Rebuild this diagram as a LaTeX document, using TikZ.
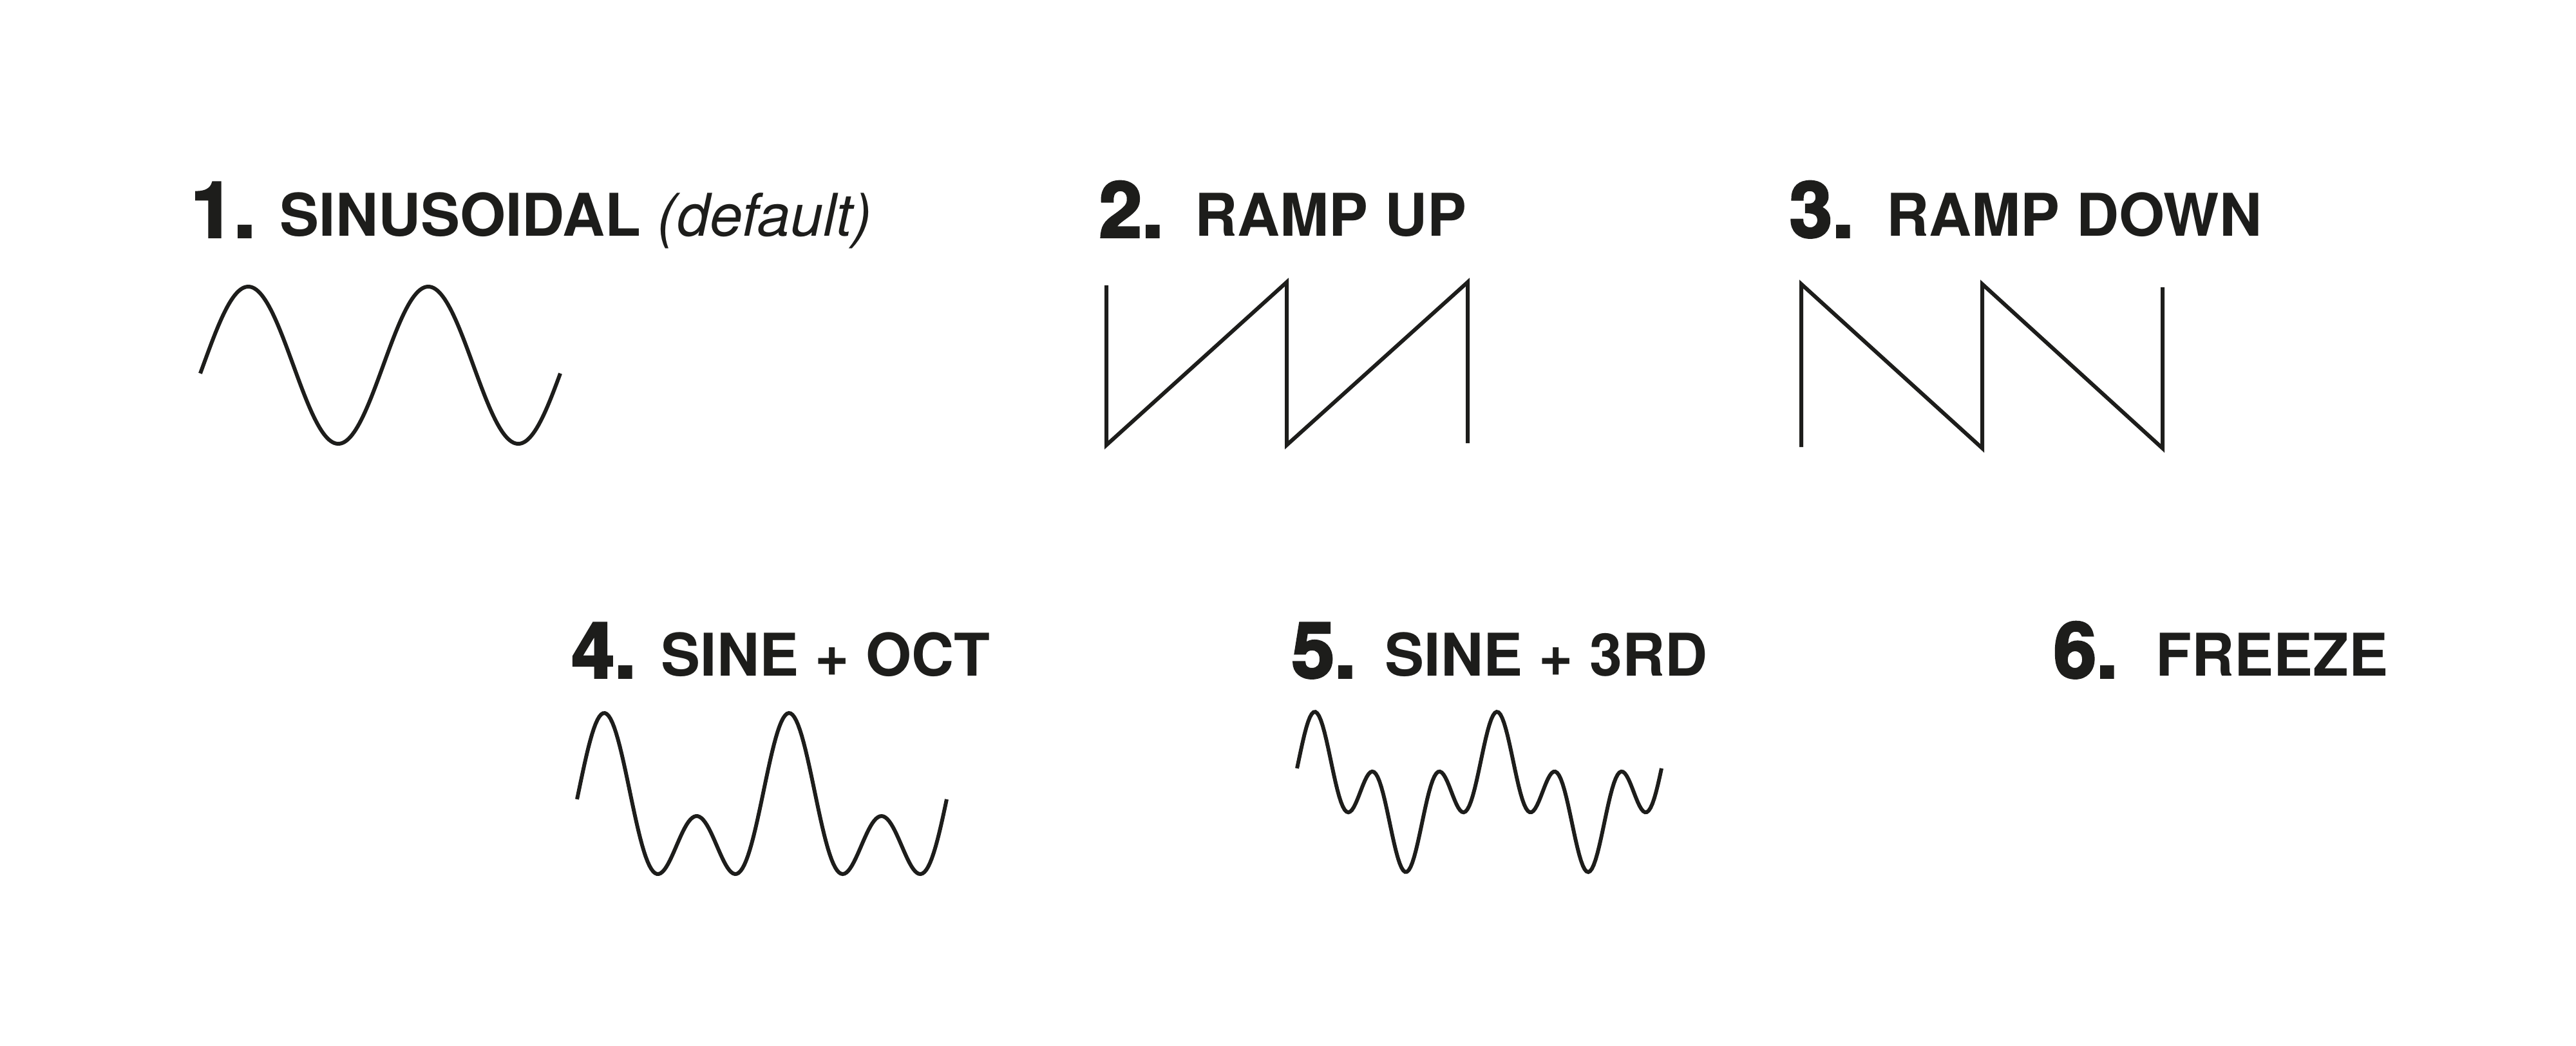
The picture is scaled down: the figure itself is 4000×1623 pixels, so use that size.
\documentclass[tikz,border=0pt]{standalone}
\usepackage{fontspec}
\setmainfont{TeX Gyre Heros}
\newfontfamily\digitfont{texgyreheros-bold.otf}[FakeBold=3]
\usepackage{tikz}

\begin{document}
\begin{tikzpicture}[x=0.01cm, y=-0.01cm,
    digit/.style={inner sep=0pt, anchor=base west, text=ink, font=\digitfont\fontsize{34}{38}\selectfont},
    title/.style={inner sep=0pt, anchor=base west, text=ink, font=\bfseries\fontsize{26}{30}\selectfont},
    wave/.style={draw=ink, line width=1.7pt}]
    % Colour of the print
    \definecolor{ink}{HTML}{1D1D1B}

    % Page
    \fill[white] (0,0) rectangle (4000,1623);

    % 1. Sinusoidal
    \node[digit] (num1) at (296,368) {1.};
    \node[title] (sinus) at (434,366) {SINUSOIDAL {\mdseries\itshape (default)}};
    \draw[wave] plot[domain=-6:714, samples=200] ({311+(\x+6)*0.7764}, {567-122*sin(\x)});

    % 2. Ramp up
    \node[digit] (num2) at (1706,368) {2.};
    \node[title] (rampup) at (1855,366) {RAMP UP};
    \draw[wave] (1718,443) -- (1718,691) -- (1998,438) -- (1998,691) -- (2279,438) -- (2279,688);

    % 3. Ramp down
    \node[digit] (num3) at (2778,368) {3.};
    \node[title] (rampdown) at (2929,366) {RAMP DOWN};
    \draw[wave] (2797,694) -- (2797,441) -- (3078,696) -- (3078,441) -- (3358,696) -- (3358,446);

    % 4. Sine + octave
    \node[digit] (num4) at (887,1052) {4.};
    \node[title] (oct) at (1026,1049) {SINE + OCT};
    \draw[wave] plot[domain=-53:667, samples=200] ({896+(\x+53)*0.7972}, {1267-80*(cos(\x)+cos(2*\x))});

    % 5. Sine + third
    \node[digit] (num5) at (2005,1052) {5.};
    \node[title] (third) at (2150,1049) {SINE + 3RD};
    \draw[wave] plot[domain=-35:685, samples=200] ({2014+(\x+35)*0.7861}, {1229.5-63.8*(cos(\x)+0.95*cos(3*\x))});

    % 6. Freeze
    \node[digit] (num6) at (3188,1052) {6.};
    \node[title] (freeze) at (3347,1049) {FREEZE};
\end{tikzpicture}
\end{document}
